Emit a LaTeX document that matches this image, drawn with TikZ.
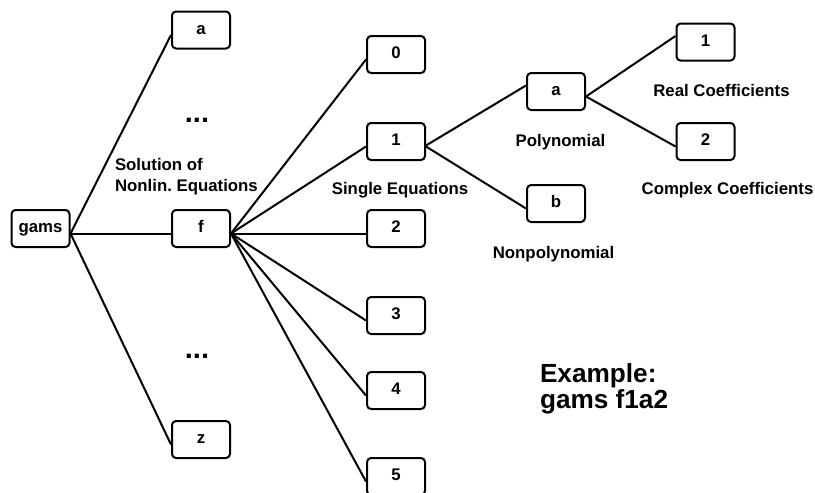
\documentclass[tikz,border=0pt]{standalone}
\usepackage{fontspec}
\setmainfont{Liberation Sans}
\frenchspacing
\tikzset{
  box/.style={draw,rounded corners=2pt,minimum width=29pt,minimum height=18.5pt,inner sep=0pt,text height=4.4pt,text depth=0pt,font=\fontsize{8.4}{10.5}\selectfont\bfseries},
  lbl/.style={anchor=base,inner sep=0pt,font=\fontsize{8.4}{10.5}\selectfont\bfseries},
  dots/.style={anchor=base,inner sep=0pt,font=\fontsize{14.5}{16}\selectfont\bfseries}
}
\begin{document}
\begin{tikzpicture}[x=0.5pt,y=-0.5pt,line width=1pt,line join=round]
  \useasboundingbox (0,0) rectangle (815,493);
  %==boxes
  \node[box] (gams) at (40.5,228.5) {gams};
  \node[box] (a) at (201,30) {a};
  \node[box] (f) at (201,228.5) {f};
  \node[box] (z) at (201,439.5) {z};
  \foreach \i/\y in {0/54.5,1/141.5,2/228.5,3/315.5,4/390.5,5/476.5}
    \node[box] (n\i) at (396,\y) {\i};
  \node[box] (pa) at (556,91.5) {a};
  \node[box] (pb) at (556,203.5) {b};
  \node[box] (c1) at (705.5,42) {1};
  \node[box] (c2) at (705.5,141.5) {2};
  %==lines
  \foreach \s/\t in {gams/a,gams/f,gams/z,f/n0,f/n1,f/n2,f/n3,f/n4,f/n5,n1/pb,pa/c2}
    \draw ([yshift=-2.5pt]\s.east)--([yshift=-2.5pt]\t.west);
  \draw ([yshift=-2pt]n1.east)--([yshift=3pt]pa.west);
  \draw ([yshift=-2.5pt]pa.east)--([yshift=3pt]c1.west);
  %==texts
  \node[dots] (d1) at (197,122) {...};
  \node[dots] (d2) at (197,358) {...};
  \node[lbl,anchor=base west,align=left] (sol) at (114,191) {Solution of\\Nonlin. Equations};
  \node[lbl] (single) at (400,194) {Single Equations};
  \node[lbl] (poly) at (560.5,146) {Polynomial};
  \node[lbl] (npoly) at (553.5,258) {Nonpolynomial};
  \node[lbl] (real) at (721.5,96) {Real Coefficients};
  \node[lbl] (cplx) at (727.5,194) {Complex Coefficients};
  \node[anchor=base west,inner sep=0pt,align=left,font=\fontsize{13.1}{13}\selectfont\bfseries] (ex) at (539,408) {Example:\\gams f1a2};
\end{tikzpicture}
\end{document}
